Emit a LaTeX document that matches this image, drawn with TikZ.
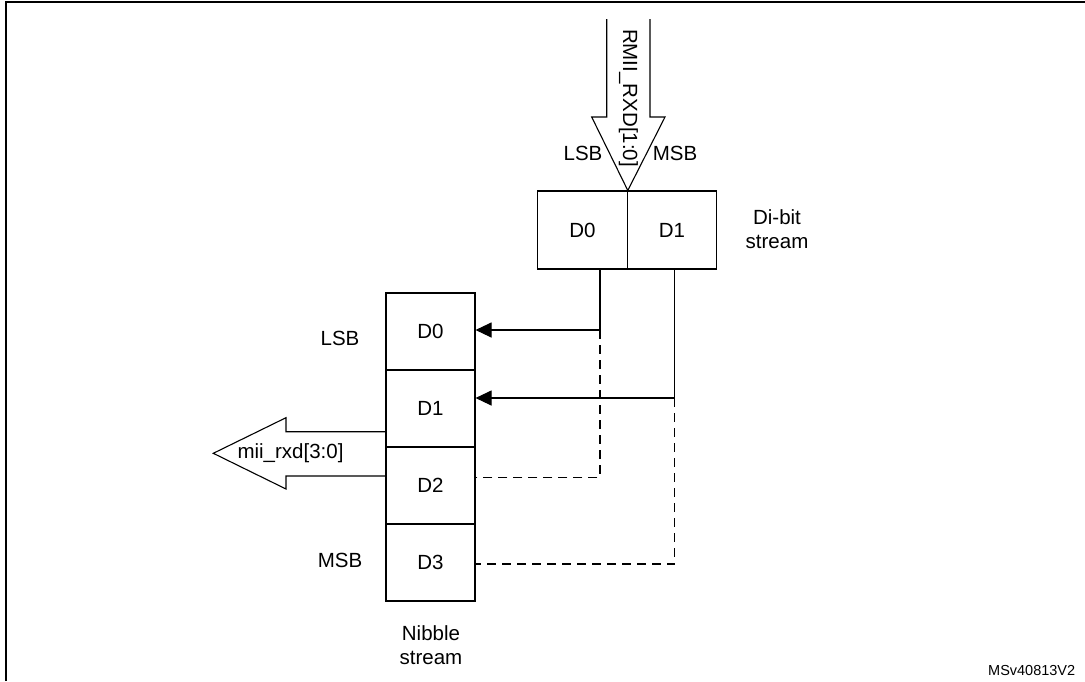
\documentclass[tikz,border=0pt]{standalone}
\usepackage{fontspec}
\setmainfont{Liberation Sans}
\usetikzlibrary{arrows.meta}
\begin{document}
\begin{tikzpicture}[x=1pt,y=-1pt,
  line width=1.1pt,
  txt/.style={font=\fontsize{20.5}{24}\selectfont, inner sep=0pt, align=center},
  cell/.style={draw, line width=1.1pt, minimum width=89pt, font=\fontsize{20.5}{24}\selectfont, inner sep=0pt},
  dcell/.style={cell, minimum width=89.5pt, minimum height=78pt},
  ncell/.style={cell, minimum height=77pt},
  conn/.style={-{Triangle[length=16pt,width=15pt]}, line width=1.1pt},
  dconn/.style={dashed, dash pattern=on 9pt off 6pt, line width=1.1pt},
  bigarrow/.style={line width=1.1pt, line join=miter}
]
\useasboundingbox (0,0) rectangle (1085,681);
% frame (left and top edges)
\draw[line width=2pt] (6,681) -- (6,1.5) -- (1085,1.5);

% di-bit stream cells
\node[dcell] (dD0) at (582.5,230) {D0};
\node[dcell] (dD1) at (672,230) {D1};
\node[txt] (dibit) at (777,229) {Di-bit\\stream};

% nibble stream cells
\node[ncell] (nD0) at (430.5,331.5) {D0};
\node[ncell] (nD1) at (430.5,408.5) {D1};
\node[ncell] (nD2) at (430.5,485.5) {D2};
\node[ncell] (nD3) at (430.5,562.5) {D3};
\node[txt] (nib) at (431,645) {Nibble\\stream};

\node[txt] (lsbL) at (340,338) {LSB};
\node[txt] (msbL) at (340,560) {MSB};

% top input arrow
\coordinate (tip) at (dD0.north east);
\draw[bigarrow] (606.7,19) -- (606.7,117) -- (591.7,117) -- (tip) -- (665,117) -- (650,117) -- (650,19);
\node[txt, rotate=-90] (rmii) at (628.3,98) {RMII\_RXD[1:0]};
\node[txt] (lsbT) at (583,153) {LSB};
\node[txt] (msbT) at (675,153) {MSB};

% left output arrow
\draw[bigarrow] (nD1.west |- 0,431.7) -- (286,431.7) -- (286,417.7) -- (213.3,453.3) -- (286,489) -- (286,476) -- (nD2.west |- 0,476);
\node[txt] (mii) at (290.5,453) {mii\_rxd[3:0]};

% connectors
\coordinate (c1) at (600,330);
\coordinate (c2) at (674.7,398);
\coordinate (c1b) at (600,477.3);
\coordinate (c2b) at (674.7,564);
\draw[line width=1.1pt] (dD0.south -| c1) -- (c1);
\draw[conn] (c1) -- (c1 -| nD0.east);
\draw[line width=1.1pt] (dD1.south -| c2) -- (c2);
\draw[conn] (c2) -- (c2 -| nD1.east);
\draw[dconn] (c1) -- (c1b) -- (c1b -| nD2.east);
\draw[dconn] (c2) -- (c2b) -- (c2b -| nD3.east);

\node[font=\fontsize{14.5}{17}\selectfont, inner sep=0pt] (id) at (1031.7,670) {MSv40813V2};
\end{tikzpicture}
\end{document}
